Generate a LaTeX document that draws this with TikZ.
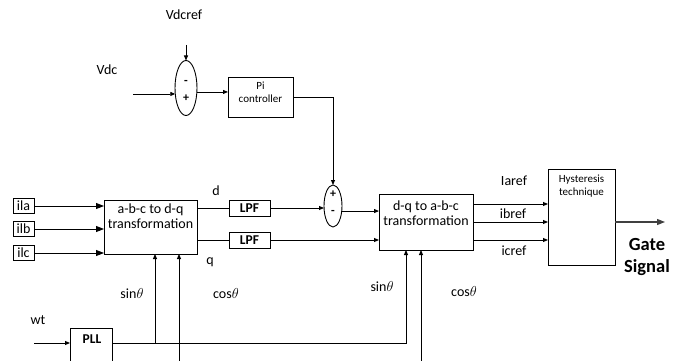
\documentclass[tikz,border=0pt]{standalone}
\usepackage{fontspec}
\setmainfont{Carlito}
\usetikzlibrary{shapes.geometric,arrows.meta}
\begin{document}
\begin{tikzpicture}[x=1pt,y=-1pt,line width=0.9pt,
  every node/.style={font=\fontsize{14}{15}\selectfont, inner sep=0pt},
  blk/.style={draw, inner sep=0pt, outer sep=0pt},
  sumnode/.style={draw, ellipse, inner sep=0pt, outer sep=0pt},
  sm/.style={font=\fontsize{11}{13}\selectfont},
  bld/.style={font=\bfseries\fontsize{13.5}{15}\selectfont},
  sgn/.style={font=\bfseries\fontsize{12}{12}\selectfont},
  big/.style={font=\bfseries\fontsize{18.5}{22}\selectfont},
  arr/.style={-{Triangle[length=5pt,width=4pt]}},
  bigarr/.style={-{Triangle[length=8pt,width=6pt]}}]
\useasboundingbox (0,0) rectangle (683,361);
\clip (0,0) rectangle (683,361);

% ---- DC voltage loop ----
\node (vdcref) at (184,15) {Vdcref};
\node[sumnode, minimum width=22pt, minimum height=55pt] (s1) at (186,88) {};
\node[sgn] (s1m) at (186,82) {-};
\node[sgn] (s1p) at (186,98) {+};
\coordinate (s1top) at (186,45);
\draw[arr] (s1top) -- (s1.north);
\node (vdc) at (107,70) {Vdc};
\coordinate (vdcin) at (133,0);
\draw[arr] (s1.209 -| vdcin) -- (s1.209);
\node[blk, minimum width=65pt, minimum height=40pt] (pi) at (260.5,97) {};
\node[sm, align=center] (pitxt) at (260.5,92) {Pi\\controller};
\draw[arr] (s1.-20) -- (s1.-20 -| pi.west);

% ---- current loop ----
\node[sumnode, minimum width=18pt, minimum height=42pt] (s2) at (333,206) {};
\node[sgn] (s2p) at (333,194) {+};
\node[sgn] (s2m) at (333,212) {-};
\draw[arr] (pi.east) -| (s2.north);

\node[blk, minimum width=21pt, minimum height=15pt] (ila) at (23.5,206) {ila};
\node[blk, minimum width=21pt, minimum height=15pt] (ilb) at (23.5,229) {ilb};
\node[blk, minimum width=21pt, minimum height=15pt] (ilc) at (23.5,253) {ilc};
\node[blk, minimum width=93pt, minimum height=54pt] (abc) at (150.5,227) {};
\node[align=center] (abctxt) at (150.5,216.5) {a-b-c to d-q\\transformation};
\draw[bigarr] (ila.east) -- (ila.east -| abc.west);
\draw[bigarr] (ilb.east) -- (ilb.east -| abc.west);
\draw[bigarr] (ilc.east) -- (ilc.east -| abc.west);

\node[blk, bld, minimum width=41pt, minimum height=16pt] (lpf1) at (249.5,208) {LPF};
\node[blk, bld, minimum width=41pt, minimum height=16pt] (lpf2) at (249.5,240) {LPF};
\draw (abc.east |- lpf1) -- (lpf1.west);
\draw (abc.east |- lpf2) -- (lpf2.west);
\node (dlab) at (216,191) {d};
\node (qlab) at (210,262) {q};
\draw[arr] (lpf1.east) -- (lpf1.east -| s2.west);

\node[blk, minimum width=94pt, minimum height=56pt] (dq) at (426,222) {};
\node[align=center] (dqtxt) at (426,213) {d-q to a-b-c\\transformation};
\draw[arr] (s2.-30) -- (s2.-30 -| dq.west);
\draw[arr] (lpf2.east) -- (lpf2.east -| dq.west);

\node[blk, minimum width=67pt, minimum height=96pt] (hy) at (581.5,217) {};
\node[sm, align=center] (hytxt) at (581.5,186.5) {Hysteresis\\technique};
\coordinate (ya) at (0,204);
\coordinate (yb) at (0,222);
\coordinate (yc) at (0,240);
\draw[arr] (dq.east |- ya) -- (hy.west |- ya);
\draw[arr] (dq.east |- yb) -- (hy.west |- yb);
\draw[arr] (dq.east |- yc) -- (hy.west |- yc);
\node (iaref) at (514,181) {Iaref};
\node (ibref) at (513,214) {ibref};
\node (icref) at (514,251) {icref};

\coordinate (gate) at (665,222);
\draw[bigarr, black!75, line width=1.3pt] (hy.east |- gate) -- (gate);
\node[big, align=center] (gtxt) at (647,257) {Gate\\Signal};

% ---- PLL and angle signals ----
\node (wt) at (38,320) {wt};
\node[blk, minimum width=42pt, minimum height=40pt, anchor=north] (pll) at (91,328) {};
\node[bld] (plltxt) at (92,339) {PLL};
\coordinate (wtin) at (34,343);
\draw[arr] (wtin) -- (wtin -| pll.west);
\coordinate (j1) at (155,343);
\coordinate (j2) at (406,343);
\draw[arr] (pll.east |- j2) -- (j2) -- (j2 |- dq.south);
\draw[arr] (j1) -- (j1 |- abc.south);
\coordinate (c1) at (179,370);
\coordinate (c2) at (421,370);
\draw[arr] (c1) -- (c1 |- abc.south);
\draw[arr] (c2) -- (c2 |- dq.south);

\node (sin1) at (132,294) {sin$\theta$};
\node (cos1) at (226,294) {cos$\theta$};
\node (sin2) at (382,287) {sin$\theta$};
\node (cos2) at (464,292) {cos$\theta$};
\end{tikzpicture}
\end{document}
